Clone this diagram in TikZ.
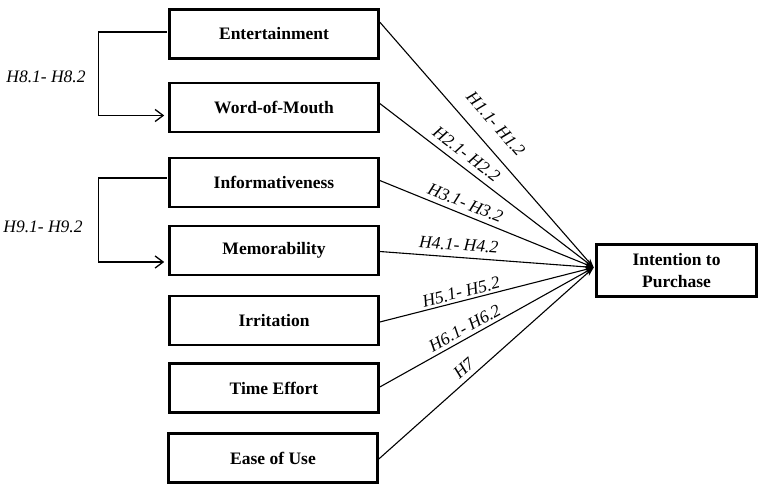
\documentclass[tikz,border=0pt]{standalone}
\usepackage{fontspec}
\setmainfont{Liberation Serif}
\usetikzlibrary{arrows.meta,calc}
\begin{document}
\begin{tikzpicture}[x=1pt,y=-1pt,
  box/.style={draw, line width=2.6pt, fill=white, minimum width=209pt, minimum height=49pt, inner sep=0pt, font=\fontsize{17.5}{19}\selectfont\bfseries, align=center},
  conn/.style={line width=1.1pt, -{Stealth[length=9pt,width=6pt]}},
  brk/.style={line width=1.3pt},
  brkarrow/.style={brk, -{Straight Barb[length=8pt,width=12pt]}},
  lab/.style={font=\fontsize{17.5}{19}\selectfont\itshape, inner sep=2pt}]
\useasboundingbox (0,0) rectangle (765,495);
\node[box] (ent) at (274,34) {Entertainment};
\node[box] (wom) at (274,107.5) {Word-of-Mouth};
\node[box] (inf) at (274,182.5) {Informativeness};
\node[box] (mem) at (274,250.5) {Memorability};
\node[box] (irr) at (274,320.5) {Irritation};
\node[box] (tim) at (274,388) {Time Effort};
\node[box] (eou) at (273,458) {Ease of Use};
\node[box, minimum width=160pt, minimum height=52pt, font=\fontsize{17.5}{22.5}\selectfont\bfseries] (int) at (676.5,270.5) {Intention to\\Purchase};
\coordinate (tip) at ($(int.west)+(-1.5,-3)$);

\draw[conn] ($(ent.north east)!0.27!(ent.south east)$) -- node[lab, sloped, above=12pt, pos=0.47] {H1.1- H1.2} (tip);
\draw[conn] ($(wom.east)+(0,-4)$) -- node[lab, sloped, above=4pt, pos=0.37] {H2.1- H2.2} (tip);
\draw[conn] ($(inf.east)+(0,-2)$) -- node[lab, sloped, above=3pt, pos=0.38] {H3.1- H3.2} (tip);
\draw[conn] ($(mem.east)+(0,1)$) -- node[lab, sloped, above=4pt, pos=0.365] {H4.1- H4.2} (tip);
\draw[conn] ($(irr.east)+(0,1.5)$) -- node[lab, sloped, above=0.5pt, pos=0.39] {H5.1- H5.2} (tip);
\draw[conn] ($(tim.east)+(0,-1)$) -- node[lab, sloped, above=1.5pt, pos=0.42] {H6.1- H6.2} (tip);
\draw[conn] ($(eou.east)+(0,1)$) -- node[lab, sloped, above=3pt, pos=0.43] {H7} (tip);

\draw[brkarrow] ($(ent.west)+(-1.5,-2)$) -- ++(-68,0) |- ($(wom.west)+(-4,8)$);
\draw[brkarrow] ($(inf.west)+(-1.5,-4.5)$) -- ++(-68,0) |- ($(mem.west)+(-4,11.5)$);
\node[lab] (h8) at (46,77) {H8.1- H8.2};
\node[lab] (h9) at (43,227) {H9.1- H9.2};
\end{tikzpicture}
\end{document}
